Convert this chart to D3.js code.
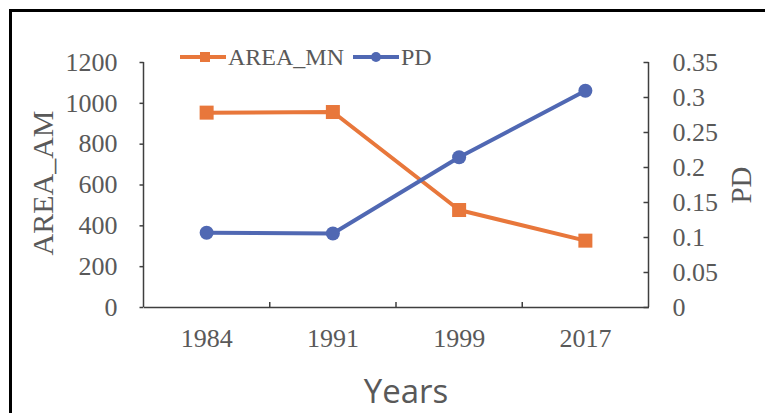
<!DOCTYPE html>
<html><head><meta charset="utf-8">
<script src="https://cdn.jsdelivr.net/npm/d3@7"></script>
<style>body{margin:0;background:#fff}svg{display:block}</style>
</head><body>
<svg id="c" width="765" height="413"></svg>
<script>
const years = ["1984","1991","1999","2017"];
const areaMN = [952, 955, 475, 325];
const pd = [0.106, 0.105, 0.214, 0.309];
const leftTicks = [0,200,400,600,800,1000,1200];
const rightTicks = [0,0.05,0.1,0.15,0.2,0.25,0.3,0.35];

const svg = d3.select("#c");
const orange = "#E8773B", blue = "#5068B3", txt = "#595959", axisC = "#3f3f3f";
const serif = "'Liberation Serif','Times New Roman',serif";

svg.append("rect").attr("x",0).attr("y",0).attr("width",765).attr("height",413).attr("fill","#fff");
// frame
svg.append("path").attr("d","M10.5,413 V10.5 H765").attr("fill","none").attr("stroke","#000").attr("stroke-width",3);

const L=143.5, R=648.5, T=62, B=307;
const x = d3.scaleBand().domain(years).range([L,R]);
const yL = d3.scaleLinear().domain([0,1200]).range([B,T]);
const yR = d3.scaleLinear().domain([0,0.35]).range([B,T]);

const gl = svg.append("g").attr("transform",`translate(${L},0)`)
  .call(d3.axisLeft(yL).tickValues(leftTicks).tickSize(4).tickPadding(22).tickFormat(d3.format("d")));
const gr = svg.append("g").attr("transform",`translate(${R},0)`)
  .call(d3.axisRight(yR).tickValues(rightTicks).tickSizeInner(-5).tickSizeOuter(0).tickPadding(24).tickFormat(d=>d===0?"0":String(+d.toFixed(2))));
const gb = svg.append("g").attr("transform",`translate(0,${B})`)
  .call(d3.axisBottom(x).tickSize(0).tickPadding(22));
[gl,gr,gb].forEach(g=>{
  g.select(".domain").attr("stroke",axisC).attr("stroke-width",1.5);
  g.selectAll(".tick line").attr("stroke",axisC).attr("stroke-width",1.5);
  g.selectAll("text").attr("fill",txt).style("font-family",serif).style("font-size","26px");
});
gl.select(".domain").attr("d",`M0,${T}V${B}`);
gr.select(".domain").attr("d",`M0,${T}V${B}`);
const bounds = years.map(y=>x(y)).slice(1);
svg.append("g").selectAll("line").data(bounds).join("line")
  .attr("x1",d=>d).attr("x2",d=>d).attr("y1",B).attr("y2",B-5)
  .attr("stroke",axisC).attr("stroke-width",1.5);

const cx = d=>x(d)+x.bandwidth()/2;
svg.append("path").datum(years.map((y,i)=>[cx(y),yL(areaMN[i])]))
  .attr("d",d3.line()).attr("fill","none").attr("stroke",orange).attr("stroke-width",4).attr("stroke-linejoin","round");
svg.append("g").selectAll("rect").data(years).join("rect")
  .attr("x",(d)=>cx(d)-7).attr("y",(d,i)=>yL(areaMN[i])-7).attr("width",14).attr("height",14).attr("fill",orange);
svg.append("path").datum(years.map((y,i)=>[cx(y),yR(pd[i])]))
  .attr("d",d3.line()).attr("fill","none").attr("stroke",blue).attr("stroke-width",4).attr("stroke-linejoin","round");
svg.append("g").selectAll("circle").data(years).join("circle")
  .attr("cx",d=>cx(d)).attr("cy",(d,i)=>yR(pd[i])).attr("r",7).attr("fill",blue);

const lg = svg.append("g");
lg.append("line").attr("x1",180).attr("x2",226).attr("y1",57).attr("y2",57).attr("stroke",orange).attr("stroke-width",4);
lg.append("rect").attr("x",200).attr("y",52).attr("width",10).attr("height",10).attr("fill",orange);
lg.append("text").attr("x",228).attr("y",65).text("AREA_MN").attr("fill",txt).style("font-family",serif).style("font-size","24px");
lg.append("line").attr("x1",353).attr("x2",399).attr("y1",57).attr("y2",57).attr("stroke",blue).attr("stroke-width",4);
lg.append("circle").attr("cx",376).attr("cy",57).attr("r",5).attr("fill",blue);
lg.append("text").attr("x",401).attr("y",65).text("PD").attr("fill",txt).style("font-family",serif).style("font-size","24px");

svg.append("text").attr("transform","translate(53,183) rotate(-90)").attr("text-anchor","middle")
  .text("AREA_AM").attr("fill",txt).style("font-family",serif).style("font-size","30px");
svg.append("text").attr("transform","translate(751,185) rotate(-90)").attr("text-anchor","middle")
  .text("PD").attr("fill",txt).style("font-family",serif).style("font-size","29px");
svg.append("text").attr("x",406).attr("y",403).attr("text-anchor","middle")
  .text("Years").attr("fill",txt).style("font-family","'Open Sans','Liberation Sans',sans-serif").style("font-size","33px");
</script>
</body></html>
